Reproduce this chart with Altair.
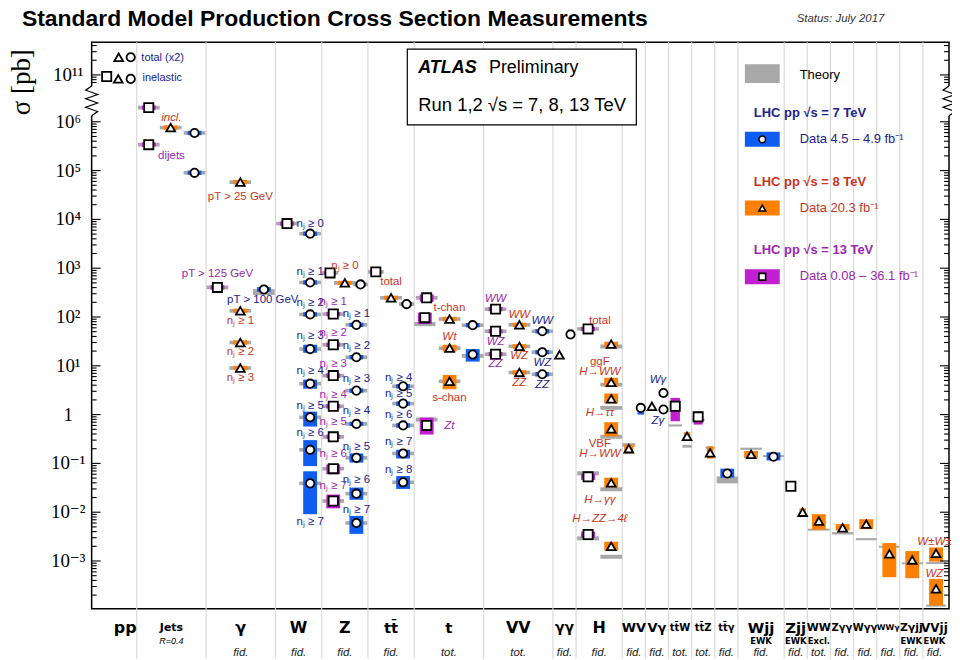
import math
import altair as alt
import pandas as pd

# ---------------------------------------------------------------- data
CATEGORIES = ["pp", "Jets", "γ", "W", "Z", "tt̄", "t", "VV", "γγ", "H", "WV", "Vγ",
              "tt̄W", "tt̄Z", "tt̄γ", "Wjj", "Zjj", "WW", "Zγγ", "Wγγ", "WWγ", "Zγjj", "VVjj"]
CATEGORY_SUBLABELS = ["", "R=0.4", "", "", "", "", "", "", "", "", "", "", "", "", "",
                      "EWK", "EWK", "Excl.", "", "", "", "EWK", "EWK"]
CATEGORY_PHASE_SPACE = ["", "", "fid.", "fid.", "fid.", "fid.", "tot.", "tot.", "fid.", "fid.", "fid.", "fid.",
                        "tot.", "tot.", "fid.", "fid.", "fid.", "tot.", "fid.", "fid.", "fid.", "fid.", "fid."]

# measurements: (slot inside the column, sqrt(s) [TeV], sigma [pb]
#                [, data low, data high [, theory low, theory high]])   0 = not drawn
M_PP = [(0.70, 13, 9.3e10, 0, 0, 0, 0), (1.20, 8, 8.3e10, 0, 0, 0, 0), (1.74, 7, 8.3e10, 0, 0, 0, 0),
        (1.22, 8, 2.3e11, 0, 0, 0, 0), (1.74, 7, 2.3e11, 0, 0, 0, 0)]
M_JETS = [(0.52, 13, 1.95e6), (1.47, 8, 7.6e5), (2.50, 7, 5.9e5), (0.52, 13, 3.4e5), (2.50, 7, 9.0e4)]
M_GAMMA = [(1.48, 8, 5.8e4), (0.49, 13, 404), (2.50, 7, 367, 330, 410, 281, 373),
           (1.48, 8, 134), (1.48, 8, 30), (1.48, 8, 9.0)]
M_W = [(0.50, 13, 8.2e3), (1.50, 7, 5.1e3), (1.50, 7, 510), (1.50, 7, 113), (1.50, 7, 22, 18.5, 27),
       (1.50, 7, 4.3, 3.4, 5.2), (1.50, 7, 0.88, 0.57, 1.15), (1.50, 7, 0.19, 0.088, 0.30),
       (1.50, 7, 0.039, 0.0091, 0.069)]
M_Z = [(0.36, 13, 800), (1.00, 8, 500), (1.68, 7, 465),
       (0.50, 13, 115), (1.50, 7, 69), (0.50, 13, 27), (1.50, 7, 15), (0.50, 13, 6.3), (1.50, 7, 3.1),
       (0.50, 13, 1.48), (1.50, 7, 0.645), (0.50, 13, 0.35), (1.50, 7, 0.13, 0.104, 0.16),
       (0.50, 13, 0.078, 0.060, 0.095), (1.50, 7, 0.024, 0.018, 0.032),
       (0.50, 13, 0.017, 0.012, 0.023), (1.50, 7, 0.006, 0.0036, 0.0084)]
M_TT = [(0.34, 13, 840), (1.00, 8, 247), (1.67, 7, 184), (1.52, 7, 3.8), (1.52, 7, 1.68), (1.52, 7, 0.60),
        (1.52, 7, 0.16, 0.126, 0.19), (1.52, 7, 0.041, 0.030, 0.055)]
M_T = [(0.54, 13, 247, 205, 290), (0.46, 13, 97, 72, 122, 65, 79), (1.53, 8, 91), (2.53, 7, 68),
       (1.53, 8, 23, 19.5, 27), (2.53, 7, 17, 12.2, 22, 14.6, 17.5), (1.53, 8, 4.8, 3.3, 6.5),
       (0.54, 13, 0.60, 0.39, 0.87, 0.72, 0.87)]
M_VV = [(0.52, 13, 145), (0.52, 13, 51), (0.52, 13, 17.3), (1.55, 8, 69), (1.55, 8, 25), (1.55, 8, 7.3),
        (2.54, 7, 51), (2.54, 7, 19), (2.54, 7, 6.7)]
M_GG = [(0.28, 8, 16.7, 0, 0, 0, 0), (0.76, 7, 44, 0, 0, 0, 0)]
M_H = [(0.52, 13, 57), (1.52, 8, 28, 24, 31, 22.6, 27.2), (1.52, 8, 4.6, 3.7, 5.7, 3.75, 4.5),
       (1.52, 8, 2.1, 1.7, 2.7, 1.25, 1.5), (1.52, 8, 0.51, 0.36, 0.70, 0.32, 0.385),
       (0.52, 13, 0.053, 0.046, 0.062, 0.057, 0.069), (1.52, 8, 0.040, 0.032, 0.051, 0.027, 0.0325),
       (0.52, 13, 0.0035, 0.0030, 0.0040, 0.00265, 0.0032),
       (1.52, 8, 0.0020, 0.00162, 0.00248, 0.00111, 0.00134)]
M_WV = [(0.28, 8, 0.20, 0.16, 0.244, 0.22, 0.26), (0.80, 7, 1.37, 1.0, 1.6, 0, 0)]
M_VG = [(0.28, 8, 1.48, 0, 0, 0, 0), (0.78, 7, 2.77, 0, 0, 0, 0), (0.78, 7, 1.27, 0, 0, 0, 0)]
M_TTW = [(0.29, 13, 1.48, 0.73, 2.2, 0.57, 0.63), (0.80, 8, 0.36, 0.295, 0.435, 0.21, 0.24)]
M_TTZ = [(0.28, 13, 0.90, 0.625, 1.15, 0.75, 0.83), (0.80, 8, 0.165, 0.125, 0.225, 0.20, 0.22)]
M_TTG = [(0.54, 7, 0.062, 0.051, 0.078, 0.039, 0.054)]
M_WJJ = [(0.57, 8, 0.153, 0.13, 0.18, 0.19, 0.21), (1.54, 7, 0.137, 0.115, 0.168, 0.135, 0.148)]
M_ZJJ = [(0.29, 13, 0.034, 0.029, 0.035, 0, 0), (0.80, 8, 0.010, 0.0088, 0.012, 0, 0)]
M_WWEX = [(0.50, 8, 0.0066, 0.0044, 0.0091, 0.0042, 0.0046)]
M_ZGG = [(0.53, 8, 0.0048, 0.0042, 0.0057, 0.0035, 0.0039)]
M_WGG = [(0.55, 8, 0.0057, 0.0045, 0.0072, 0.00266, 0.00294)]
M_WWG = [(0.55, 8, 0.0014, 0.000465, 0.00233, 0.00187, 0.00205)]
M_ZGJJ = [(0.54, 8, 0.00105, 0.000444, 0.0016, 0.00086, 0.00094)]
M_VVJJ = [(0.57, 8, 0.00144, 0.00097, 0.0019, 0.00087, 0.00095),
          (0.57, 8, 0.00027, 0.000122, 0.00043, 0.000116, 0.000128)]

MEASUREMENTS = [("pp", M_PP), ("Jets", M_JETS), ("γ", M_GAMMA), ("W", M_W), ("Z", M_Z), ("tt̄", M_TT),
                ("t", M_T), ("VV", M_VV), ("γγ", M_GG), ("H", M_H), ("WV", M_WV), ("Vγ", M_VG),
                ("tt̄W", M_TTW), ("tt̄Z", M_TTZ), ("tt̄γ", M_TTG), ("Wjj", M_WJJ), ("Zjj", M_ZJJ),
                ("WW", M_WWEX), ("Zγγ", M_ZGG), ("Wγγ", M_WGG), ("WWγ", M_WWG), ("Zγjj", M_ZGJJ),
                ("VVjj", M_VVJJ)]

# annotations: (category, slot, sigma [pb] at the text, sqrt(s), text)
ANN_PP = [("pp", 2.20, 2.25e11, 7, "total (x2)"), ("pp", 2.25, 8.5e10, 7, "inelastic")]
ANN_JETS = [("Jets", 1.5, 1.2e6, 8, "incl."), ("Jets", 1.5, 2.0e5, 13, "dijets")]
ANN_GAMMA = [("γ", 1.48, 2.9e4, 8, "pT > 25 GeV"), ("γ", 0.49, 750, 13, "pT > 125 GeV"),
             ("γ", 2.45, 220, 7, "pT > 100 GeV"), ("γ", 1.48, 83, 8, "nⱼ ≥ 1"),
             ("γ", 1.48, 19.3, 8, "nⱼ ≥ 2"), ("γ", 1.48, 5.7, 8, "nⱼ ≥ 3")]
ANN_W = [("W", 1.5, 7.9e3, 7, "nⱼ ≥ 0"), ("W", 1.5, 840, 7, "nⱼ ≥ 1"), ("W", 1.5, 193, 7, "nⱼ ≥ 2"),
         ("W", 1.5, 40, 7, "nⱼ ≥ 3"), ("W", 1.5, 8.0, 7, "nⱼ ≥ 4"), ("W", 1.5, 1.53, 7, "nⱼ ≥ 5"),
         ("W", 1.5, 0.41, 7, "nⱼ ≥ 6"), ("W", 1.5, 0.0063, 7, "nⱼ ≥ 7")]
ANN_Z = [("Z", 1.0, 1115, 8, "nⱼ ≥ 0"),
         ("Z", 0.5, 205, 13, "nⱼ ≥ 1"), ("Z", 0.5, 47, 13, "nⱼ ≥ 2"), ("Z", 0.5, 11, 13, "nⱼ ≥ 3"),
         ("Z", 0.5, 2.56, 13, "nⱼ ≥ 4"), ("Z", 0.5, 0.69, 13, "nⱼ ≥ 5"), ("Z", 0.5, 0.153, 13, "nⱼ ≥ 6"),
         ("Z", 0.5, 0.034, 13, "nⱼ ≥ 7"),
         ("Z", 1.5, 115, 7, "nⱼ ≥ 1"), ("Z", 1.5, 25.6, 7, "nⱼ ≥ 2"), ("Z", 1.5, 5.4, 7, "nⱼ ≥ 3"),
         ("Z", 1.5, 1.17, 7, "nⱼ ≥ 4"), ("Z", 1.5, 0.212, 7, "nⱼ ≥ 5"), ("Z", 1.5, 0.0457, 7, "nⱼ ≥ 6"),
         ("Z", 1.5, 0.011, 7, "nⱼ ≥ 7")]
ANN_TT = [("tt̄", 1.0, 518, 8, "total"), ("tt̄", 1.33, 5.6, 7, "nⱼ ≥ 4"), ("tt̄", 1.33, 2.7, 7, "nⱼ ≥ 5"),
          ("tt̄", 1.33, 1.0, 7, "nⱼ ≥ 6"), ("tt̄", 1.33, 0.272, 7, "nⱼ ≥ 7"), ("tt̄", 1.33, 0.073, 7, "nⱼ ≥ 8")]
ANN_T = [("t", 1.52, 155, 8, "t-chan"), ("t", 1.52, 38.5, 8, "Wt"), ("t", 1.52, 2.19, 8, "s-chan"),
         ("t", 1.52, 0.58, 13, "Zt")]
ANN_VV = [("VV", 0.52, 233, 13, "WW"), ("VV", 0.52, 31, 13, "WZ"), ("VV", 0.52, 10.8, 13, "ZZ"),
          ("VV", 1.54, 110, 8, "WW"), ("VV", 1.54, 16, 8, "WZ"), ("VV", 1.54, 4.4, 8, "ZZ"),
          ("VV", 2.54, 84, 7, "WW"), ("VV", 2.54, 11.4, 7, "WZ"), ("VV", 2.54, 4.1, 7, "ZZ")]
ANN_H = [("H", 1.03, 84, 8, "total"), ("H", 1.03, 11.9, 8, "ggF"), ("H", 1.03, 7.4, 8, "H→WW"),
         ("H", 1.03, 1.08, 8, "H→ττ"), ("H", 1.03, 0.244, 8, "VBF"), ("H", 1.03, 0.153, 8, "H→WW"),
         ("H", 1.03, 0.0176, 8, "H→γγ"), ("H", 1.03, 0.0072, 8, "H→ZZ→4ℓ")]
ANN_VG = [("Vγ", 0.54, 5.2, 7, "Wγ"), ("Vγ", 0.54, 0.73, 7, "Zγ")]
ANN_VVJJ = [("VVjj", 0.5, 0.00248, 8, "W±W±"), ("VVjj", 0.5, 0.00054, 8, "WZ")]
ANNOTATIONS = ANN_PP + ANN_JETS + ANN_GAMMA + ANN_W + ANN_Z + ANN_TT + ANN_T + ANN_VV + ANN_H + ANN_VG + ANN_VVJJ

LEGEND_ENERGIES = ["7", "8", "13"]
LEGEND_HEADERS = ["LHC pp  √s = 7 TeV", "LHC pp  √s = 8 TeV", "LHC pp  √s = 13 TeV"]
LEGEND_LUMI = ["Data  4.5 – 4.9 fb⁻¹", "Data  20.3 fb⁻¹", "Data  0.08 – 36.1 fb⁻¹"]
TITLE = "Standard Model Production Cross Section Measurements"
Y_TITLE = "σ [pb]"

# ---------------------------------------------------------------- layout / style
COLUMN_UNITS = [2, 3, 3, 2, 2, 2, 3, 3, 1, 2, 1, 1, 1, 1, 1, 2, 1, 1, 1, 1, 1, 1, 1]
LABEL_SIZES = [16, 11, 16, 16, 16, 15, 15, 16, 14, 16, 13, 13, 10, 10, 10, 15, 15, 11, 10, 10, 8, 11, 12]
LABEL_NUDGE = {"pp": 0.5}
ITALIC_TEXTS = {"incl.", "Wt", "Zt", "WW", "WZ", "ZZ", "H→WW", "H→ττ", "H→γγ", "H→ZZ→4ℓ", "Wγ", "Zγ", "W±W±"}
LEFT_TEXTS = {"total (x2)", "inelastic"}
BAND_COLORS = {"7": "#0F5CF0", "8": "#FF8000", "13": "#C11FD0"}
TEXT_COLORS = {"7": "#23238E", "8": "#C9361D", "13": "#9A27AE"}
SHAPES = {"7": "circle", "8": "triangle-up", "13": "square"}
THEORY_COLOR = "#A8A8A8"
GRID_COLOR = "#D9D9D9"
W, H = 861, 569
X_DOMAIN = [0.05, 37.13]
Y_DOMAIN = [-3.98, 7.63]
BREAK_SHIFT = 4.04
DATA_HALF = 10 ** 0.045
THEORY_HALF = 10 ** 0.037
DATA_HW, THEORY_HW = 0.30, 0.47
SERIF = "Liberation Serif, DejaVu Serif, serif"
SANS = "Liberation Sans, Arial, sans-serif"


def to_t(v):
    lv = math.log10(v)
    return lv - BREAK_SHIFT if lv > 8 else lv


col_info = {}
acc = 0.0
for c, w in zip(CATEGORIES, COLUMN_UNITS):
    col_info[c] = (acc, w)
    acc += w

pt_rows, db_rows, th_rows = [], [], []
for cat, rows in MEASUREMENTS:
    s0, w = col_info[cat]
    for r in rows:
        slot, e, v = r[0], str(r[1]), r[2]
        u = s0 + slot
        edge = min(slot, w - slot)
        pt_rows.append({"u": u, "t": to_t(v), "E": e})
        dlo, dhi = (r[3], r[4]) if len(r) > 3 else (v / DATA_HALF, v * DATA_HALF)
        if dlo > 0:
            hw = min(DATA_HW, 0.7 * edge)
            db_rows.append({"x1": u - hw, "x2": u + hw, "y1": to_t(dlo), "y2": to_t(dhi), "c": BAND_COLORS[e]})
        tlo, thi = (r[5], r[6]) if len(r) > 5 else (v / THEORY_HALF, v * THEORY_HALF)
        if tlo > 0:
            hw = min(THEORY_HW, edge)
            th_rows.append({"x1": u - hw, "x2": u + hw, "y1": to_t(tlo), "y2": to_t(thi)})

df_pts = pd.DataFrame(pt_rows)
df_db = pd.DataFrame(db_rows)
df_th = pd.DataFrame(th_rows)

ann = pd.DataFrame([{"u": col_info[c][0] + s, "t": to_t(v), "txt": txt, "col": TEXT_COLORS[str(e)],
                     "it": txt in ITALIC_TEXTS, "left": txt in LEFT_TEXTS}
                    for c, s, v, e, txt in ANNOTATIONS])

bounds = []
acc = 0
for w in COLUMN_UNITS[:-1]:
    acc += w
    bounds.append(acc)
df_grid = pd.DataFrame({"u": bounds})

df_cat = pd.DataFrame({
    "u": [col_info[c][0] + col_info[c][1] / 2 + LABEL_NUDGE.get(c, 0) for c in CATEGORIES],
    "name": CATEGORIES, "sub": CATEGORY_SUBLABELS, "ps": CATEGORY_PHASE_SPACE, "fs": LABEL_SIZES})

# y axis ticks (log, with a break between 10^6 and 10^11)
major_exp = list(range(-3, 7)) + [11]
major_t = [to_t(10.0 ** k) for k in major_exp]
minor_t = []
for k in range(-4, 7):
    for m in range(2, 10):
        lv = k + math.log10(m)
        if Y_DOMAIN[0] < lv < 6.1:
            minor_t.append(lv)
for k in (10, 11):
    for m in range(2, 10):
        tt = to_t(m * 10.0 ** k)
        if 6.76 < tt < Y_DOMAIN[1]:
            minor_t.append(tt)
df_minor = pd.DataFrame({"t": minor_t})

SUP = str.maketrans("-0123456789", "⁻⁰¹²³⁴⁵⁶⁷⁸⁹")


def lab(k):
    return "1" if k == 0 else "10" + str(k).translate(SUP)


df_major = pd.DataFrame({"t": major_t, "lab": [lab(k) for k in major_exp]})

# zig-zag break marks
ZIG_PX = [0, -6, 6, -6, 6, -6, 6, 0]
BREAK_T = (6.735, 6.122)
px2u = (X_DOMAIN[1] - X_DOMAIN[0]) / W
zig_rows = []
for side, base in (("l", X_DOMAIN[0]), ("r", X_DOMAIN[1])):
    for i, p in enumerate(ZIG_PX):
        zig_rows.append({"side": side, "i": i, "u": base + p * px2u,
                         "t": BREAK_T[0] + (BREAK_T[1] - BREAK_T[0]) * i / (len(ZIG_PX) - 1)})
df_zig = pd.DataFrame(zig_rows)
df_break = pd.DataFrame({"t1": [BREAK_T[0]], "t2": [BREAK_T[1]]})

XS = alt.Scale(domain=X_DOMAIN, nice=False, zero=False)
YS = alt.Scale(domain=Y_DOMAIN, nice=False, zero=False)


def X(f):
    return alt.X(f"{f}:Q", scale=XS, axis=None)


def Y(f):
    return alt.Y(f"{f}:Q", scale=YS, axis=None)


layers = []
layers.append(alt.Chart(df_grid).mark_rule(color=GRID_COLOR, strokeWidth=1.2).encode(
    x=X("u"), y=alt.value(0), y2=alt.value(H + 50)))
layers.append(alt.Chart(df_th).mark_rect(color=THEORY_COLOR).encode(
    x=X("x1"), x2="x2", y=Y("y1"), y2="y2"))
layers.append(alt.Chart(df_db).mark_rect().encode(
    x=X("x1"), x2="x2", y=Y("y1"), y2="y2", color=alt.Color("c:N", scale=None)))
layers.append(alt.Chart(df_pts).mark_point(filled=True, fill="white", stroke="black", strokeWidth=1.8,
                                           opacity=1).encode(
    x=X("u"), y=Y("t"),
    shape=alt.Shape("E:N", scale=alt.Scale(domain=["7", "8", "13"], range=[SHAPES[k] for k in ["7", "8", "13"]]),
                    legend=None),
    size=alt.Size("E:N", scale=alt.Scale(domain=["7", "8", "13"], range=[70, 85, 62]), legend=None)))

# y axis: ticks inside the frame on both sides, labels and title on the left
for df_tk, ln in ((df_major, 9), (df_minor, 5)):
    layers.append(alt.Chart(df_tk).mark_rule(color="black", strokeWidth=1.1).encode(
        y=Y("t"), x=alt.value(0), x2=alt.value(ln)))
    layers.append(alt.Chart(df_tk).mark_rule(color="black", strokeWidth=1.1).encode(
        y=Y("t"), x=alt.value(W - ln), x2=alt.value(W)))
layers.append(alt.Chart(df_major).mark_text(font=SERIF, fontSize=19, align="center", baseline="middle",
                                            color="black").encode(
    y=Y("t"), x=alt.value(-23.5), text="lab:N"))
one = pd.DataFrame({"k": [0]})
layers.append(alt.Chart(one).mark_text(text=Y_TITLE, font=SERIF, fontSize=27, angle=270, align="right",
                                       baseline="alphabetic", color="black").encode(
    x=alt.value(-62), y=alt.value(7)))
for xv in (0, W):
    layers.append(alt.Chart(df_break).mark_rule(color="white", strokeWidth=4).encode(
        x=alt.value(xv), y=Y("t1"), y2="t2"))
layers.append(alt.Chart(df_zig).mark_line(color="black", strokeWidth=1.2).encode(
    x=X("u"), y=Y("t"), detail="side:N", order="i:Q"))

# annotations
for it in (False, True):
    sub = ann[(ann["it"] == it) & (~ann["left"])]
    layers.append(alt.Chart(sub).mark_text(font=SANS, fontSize=11.5, fontStyle="italic" if it else "normal",
                                           align="center", baseline="middle").encode(
        x=X("u"), y=Y("t"), text="txt:N", color=alt.Color("col:N", scale=None)))
layers.append(alt.Chart(ann[ann["left"]]).mark_text(font=SANS, fontSize=11, align="left", baseline="middle").encode(
    x=X("u"), y=Y("t"), text="txt:N", color=alt.Color("col:N", scale=None)))

# category labels below the frame
layers.append(alt.Chart(df_cat).mark_text(font="DejaVu Sans", fontWeight="bold", baseline="middle",
                                          color="black").encode(
    x=X("u"), y=alt.value(H + 19), text="name:N", size=alt.Size("fs:Q", scale=None)))
layers.append(alt.Chart(df_cat[df_cat["sub"] == "R=0.4"]).mark_text(
    font=SANS, fontSize=9, fontStyle="italic", baseline="middle", color="black").encode(
    x=X("u"), y=alt.value(H + 32), text="sub:N"))
layers.append(alt.Chart(df_cat[df_cat["sub"].isin(["EWK", "Excl."])]).mark_text(
    font="DejaVu Sans", fontSize=8.5, fontWeight="bold", baseline="middle", color="black").encode(
    x=X("u"), y=alt.value(H + 32), text="sub:N"))
layers.append(alt.Chart(df_cat[df_cat["ps"] != ""]).mark_text(
    font=SANS, fontSize=11.5, fontStyle="italic", baseline="middle", color="#222222").encode(
    x=X("u"), y=alt.value(H + 44), text="ps:N"))

# title and status
layers.append(alt.Chart(one).mark_text(text=TITLE, font=SANS, fontSize=23, fontWeight="bold",
                                       align="left", baseline="alphabetic", color="black").encode(
    x=alt.value(-70), y=alt.value(-16)))
layers.append(alt.Chart(one).mark_text(text="Status: July 2017", font=SANS, fontSize=11.5, fontStyle="italic",
                                       align="left", baseline="middle", color="#333333").encode(
    x=alt.value(708), y=alt.value(-23)))

# ATLAS label box
layers.append(alt.Chart(one).mark_rect(fill="white", stroke="black", strokeWidth=1.2).encode(
    x=alt.value(317), x2=alt.value(547), y=alt.value(7), y2=alt.value(83)))
layers.append(alt.Chart(one).mark_text(text="ATLAS", font=SANS, fontSize=18, fontWeight="bold",
                                       fontStyle="italic", align="left", baseline="middle").encode(
    x=alt.value(328), y=alt.value(26)))
layers.append(alt.Chart(one).mark_text(text="Preliminary", font=SANS, fontSize=18, align="left",
                                       baseline="middle").encode(x=alt.value(399), y=alt.value(26)))
layers.append(alt.Chart(one).mark_text(text="Run 1,2  √s = 7, 8, 13 TeV", font=SANS, fontSize=18.5,
                                       align="left", baseline="middle").encode(x=alt.value(328), y=alt.value(63)))

# legend
layers.append(alt.Chart(one).mark_rect(color=THEORY_COLOR).encode(
    x=alt.value(656), x2=alt.value(691), y=alt.value(22), y2=alt.value(41)))
layers.append(alt.Chart(one).mark_text(text="Theory", font=SANS, fontSize=13, align="left",
                                       baseline="middle").encode(x=alt.value(711), y=alt.value(33)))
for i, e in enumerate(LEGEND_ENERGIES):
    y0 = 71 + 69 * i
    layers.append(alt.Chart(one).mark_text(text=LEGEND_HEADERS[i], font=SANS, fontSize=13, fontWeight="bold",
                                           align="left", baseline="middle", color=TEXT_COLORS[e]).encode(
        x=alt.value(665), y=alt.value(y0)))
    layers.append(alt.Chart(one).mark_rect(color=BAND_COLORS[e]).encode(
        x=alt.value(656), x2=alt.value(691), y=alt.value(y0 + 19), y2=alt.value(y0 + 34)))
    layers.append(alt.Chart(one).mark_point(shape=SHAPES[e], filled=True, fill="white", stroke="black",
                                            strokeWidth=1.6, size=45, opacity=1).encode(
        x=alt.value(673.5), y=alt.value(y0 + 26.5)))
    layers.append(alt.Chart(one).mark_text(text=LEGEND_LUMI[i], font=SANS, fontSize=13, align="left",
                                           baseline="middle", color=TEXT_COLORS[e]).encode(
        x=alt.value(711), y=alt.value(y0 + 26)))

chart = alt.layer(*layers).properties(
    width=W, height=H,
    autosize=alt.AutoSizeParams(type="none"),
    padding={"left": 84, "top": 33, "right": 3, "bottom": 50},
).configure_view(stroke="black", strokeWidth=1.5)

chart.save("out.html", embed_options={"renderer": "svg", "actions": False})
